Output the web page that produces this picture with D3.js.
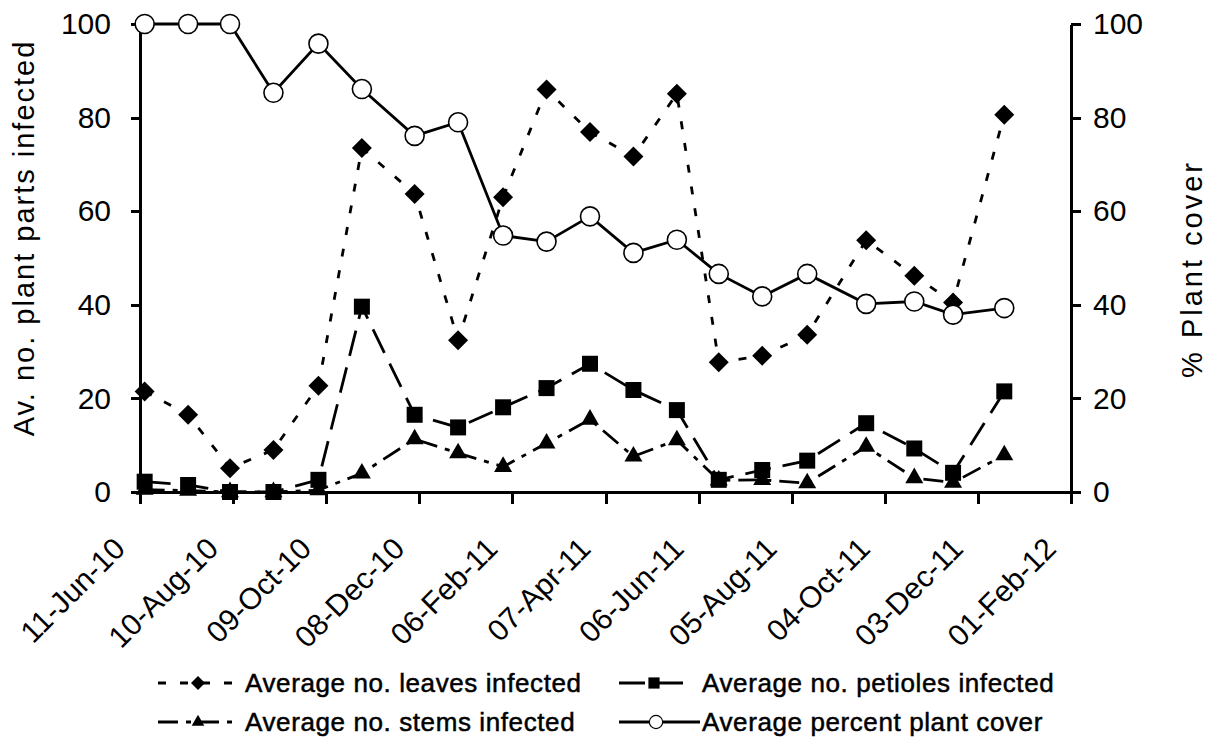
<!DOCTYPE html>
<html>
<head>
<meta charset="utf-8">
<title>Plant parts infected and plant cover</title>
<script src="https://cdn.jsdelivr.net/npm/d3@7"></script>
<style>
  body{margin:0;background:#fff;}
  text{font-family:Arial,"Liberation Sans",sans-serif;fill:#000;}
  .axis path,.axis line{stroke:#000;stroke-width:3;fill:none;shape-rendering:crispEdges;}
  .axis text{font-size:30px;}
  .title{font-size:29px;text-anchor:middle;}
  .legend{font-size:26px;letter-spacing:0.6px;stroke:#000;stroke-width:0.5px;}
</style>
</head>
<body>
<script>
// sampling dates
var sampleDates=["2010-06-14","2010-07-12","2010-08-08","2010-09-05","2010-10-04","2010-11-01",
  "2010-12-05","2011-01-02","2011-01-31","2011-02-28","2011-03-28","2011-04-25","2011-05-23",
  "2011-06-19","2011-07-17","2011-08-15","2011-09-22","2011-10-23","2011-11-17","2011-12-20"];
// series (left axis)
var leaves=[21.5,16.5,5.1,9.0,22.7,73.5,63.7,32.4,63.0,86.0,76.9,71.7,85.1,27.7,29.1,33.6,53.8,46.2,40.5,80.6];
var petioles=[2.2,1.5,0,0,2.6,39.6,16.5,13.8,18.1,22.2,27.4,21.8,17.5,2.6,4.7,6.7,14.7,9.3,4.1,21.5];
var stems=[0.5,0.3,0,0,0.4,4.0,11.3,8.3,5.4,10.4,15.5,7.6,11.1,2.5,2.6,1.9,9.7,3.0,2.0,7.9];
// series (right axis)
var cover=[100,100,100,85.3,95.8,86.1,76.1,79.0,54.8,53.5,58.9,51.1,53.9,46.6,41.8,46.6,40.2,40.7,37.9,39.3];
// axis ticks
var xTickDates=["2010-06-11","2010-08-10","2010-10-09","2010-12-08","2011-02-06","2011-04-07",
  "2011-06-06","2011-08-05","2011-10-04","2011-12-03","2012-02-01"];
var yTicks=[0,20,40,60,80,100];

var width=1209, height=738;
var svg=d3.select("body").append("svg").attr("width",width).attr("height",height);

var parse=d3.utcParse("%Y-%m-%d");
var fmt=d3.utcFormat("%d-%b-%y");
var dates=sampleDates.map(parse);
var tickDates=xTickDates.map(parse);

var x=d3.scaleUtc().domain([tickDates[0],tickDates[tickDates.length-1]]).range([140,1071]);
var yL=d3.scaleLinear().domain([0,100]).range([492,24]);
var yR=d3.scaleLinear().domain([0,100]).range([492,24]);

// axes
svg.append("g").attr("class","axis")
  .attr("transform","translate(0,492)")
  .call(d3.axisBottom(x).tickValues(tickDates).tickFormat(fmt).tickSize(12).tickSizeOuter(0))
  .selectAll("text")
  .attr("x",0).attr("y",0).attr("dy","0.35em")
  .attr("text-anchor","end")
  .attr("transform","translate(-21,51) rotate(-45)");

svg.append("g").attr("class","axis")
  .attr("transform","translate(140,0)")
  .call(d3.axisLeft(yL).tickValues(yTicks).tickSize(9).tickSizeOuter(0).tickPadding(20));

svg.append("g").attr("class","axis")
  .attr("transform","translate(1071,0)")
  .call(d3.axisRight(yR).tickValues(yTicks).tickSize(10).tickSizeOuter(0).tickPadding(12));

svg.append("text").attr("class","title")
  .attr("transform","translate(24,238) rotate(-90)").attr("dy","0.35em")
  .style("letter-spacing","2px")
  .text("Av. no. plant parts infected");
svg.append("text").attr("class","title")
  .attr("transform","translate(1192,269) rotate(-90)").attr("dy","0.35em")
  .style("letter-spacing","3px")
  .text("% Plant cover");

// series styles
var series=[
  {name:"Average no. stems infected", values:stems, y:yL, dash:"20,8,5,8", sym:"triangle"},
  {name:"Average no. petioles infected", values:petioles, y:yL, dash:"26,12", sym:"square"},
  {name:"Average no. leaves infected", values:leaves, y:yL, dash:"8,14", sym:"diamond"},
  {name:"Average percent plant cover", values:cover, y:yR, dash:null, sym:"circle"}
];

function marker(g,sym){
  if(sym=="circle"){
    return g.append("circle").attr("r",9.5).attr("fill","#fff").attr("stroke","#000").attr("stroke-width",1.6);
  }
  var p;
  if(sym=="triangle") p=d3.symbol(d3.symbolTriangle,140)();
  else p=d3.symbol(d3.symbolSquare,sym=="square"?256:200)();
  var m=g.append("path").attr("d",p).attr("fill","#000");
  if(sym=="diamond") m.attr("transform","rotate(45)");
  return m;
}

series.forEach(function(s){
  var pts=s.values.map(function(v,i){return [dates[i],v];});
  var line=d3.line().x(function(d){return x(d[0]);}).y(function(d){return s.y(d[1]);});
  svg.append("path").attr("d",line(pts))
    .attr("fill","none").attr("stroke","#000").attr("stroke-width",2.8)
    .attr("stroke-dasharray",s.dash);
  pts.forEach(function(d){
    var g=svg.append("g").attr("transform","translate("+x(d[0])+","+s.y(d[1])+")");
    marker(g,s.sym);
  });
});

// legend
var legendPos={
  "Average no. leaves infected":[158,240,198,245,683],
  "Average no. petioles infected":[619,690,654,702,683],
  "Average no. stems infected":[158,240,198,245,722],
  "Average percent plant cover":[619,700,656,702,722]
};
series.forEach(function(s){
  var p=legendPos[s.name];
  svg.append("line").attr("x1",p[0]).attr("x2",p[1]).attr("y1",p[4]).attr("y2",p[4])
    .attr("stroke","#000").attr("stroke-width",2.8).attr("stroke-dasharray",s.dash);
  var g=svg.append("g").attr("transform","translate("+p[2]+","+p[4]+") scale(0.7)");
  marker(g,s.sym);
  svg.append("text").attr("class","legend").attr("x",p[3]).attr("y",p[4]).attr("dy","0.35em").text(s.name);
});
</script>
</body>
</html>
